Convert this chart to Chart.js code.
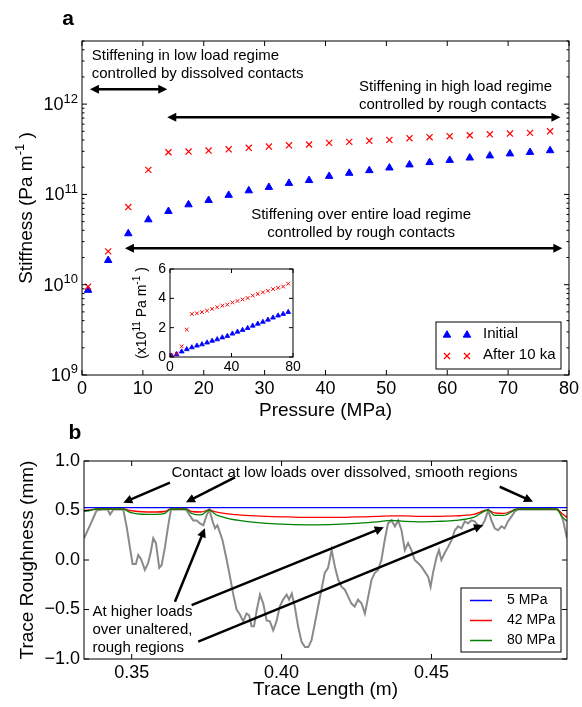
<!DOCTYPE html>
<html>
<head>
<meta charset="utf-8">
<script src="https://cdn.jsdelivr.net/npm/chart.js@4.4.0/dist/chart.umd.min.js"></script>
<style>
  body { margin: 0; background: #fff; }
  #wrap { position: relative; width: 582px; height: 707px; }
  canvas { position: absolute; }
  #a { left: 0; top: 0; }
  #b { left: 0; top: 420px; }
  #ins { left: 120px; top: 255px; }
</style>
</head>
<body>
<div id="wrap">
  <canvas id="a" width="582" height="430"></canvas>
  <canvas id="b" width="582" height="287"></canvas>
  <canvas id="ins" width="185" height="125"></canvas>
</div>
<script>
// panel a: fracture stiffness vs pressure
const pressure = [1, 4.3, 7.6, 10.9, 14.2, 17.5, 20.8, 24.1, 27.4, 30.7, 34, 37.3,
  40.6, 43.9, 47.2, 50.5, 53.8, 57.1, 60.4, 63.7, 67, 70.3, 73.6, 76.9];
const stiffInitial = [8.7e9, 1.86e10, 3.68e10, 5.25e10, 6.5e10, 7.7e10, 8.6e10, 9.8e10,
  1.1e11, 1.2e11, 1.33e11, 1.43e11, 1.59e11, 1.72e11, 1.84e11, 1.97e11, 2.13e11, 2.26e11,
  2.39e11, 2.54e11, 2.68e11, 2.82e11, 2.93e11, 3.06e11];
const stiffAfter = [9.5e9, 2.34e10, 7.25e10, 1.87e11, 2.93e11, 2.98e11, 3.06e11, 3.16e11,
  3.28e11, 3.39e11, 3.5e11, 3.57e11, 3.72e11, 3.82e11, 3.92e11, 4.02e11, 4.19e11, 4.3e11,
  4.41e11, 4.52e11, 4.63e11, 4.72e11, 4.8e11, 5.0e11];
const stiffTicks = [1e9, 1e10, 1e11, 1e12];

// panel b: roughness trace and aperture envelopes
const traceX = [0.3341, 0.3361, 0.3383, 0.3400, 0.3420, 0.3428, 0.3439, 0.3472, 0.3483, 0.3494,
  0.3503, 0.3514, 0.3522, 0.3531, 0.3544, 0.3555, 0.3563, 0.3572, 0.3581, 0.3592, 0.3600, 0.3611,
  0.3622, 0.3631, 0.3681, 0.3694, 0.3705, 0.3717, 0.3728, 0.3739, 0.3750, 0.3759, 0.3770, 0.3778,
  0.3786, 0.3794, 0.3803, 0.3817, 0.3828, 0.3839, 0.3850, 0.3861, 0.3872, 0.3883, 0.3892, 0.3900,
  0.3908, 0.3917, 0.3928, 0.3939, 0.3950, 0.3961, 0.3972, 0.3983, 0.3994, 0.4005, 0.4017, 0.4025,
  0.4034, 0.4044, 0.4055, 0.4067, 0.4078, 0.4089, 0.4100, 0.4111, 0.4122, 0.4133, 0.4144, 0.4155,
  0.4167, 0.4178, 0.4189, 0.4200, 0.4211, 0.4222, 0.4233, 0.4244, 0.4255, 0.4267, 0.4278, 0.4289,
  0.4300, 0.4311, 0.4322, 0.4333, 0.4344, 0.4355, 0.4367, 0.4378, 0.4389, 0.4400, 0.4411, 0.4422,
  0.4433, 0.4444, 0.4455, 0.4467, 0.4478, 0.4489, 0.4497, 0.4505, 0.4517, 0.4525, 0.4533, 0.4544,
  0.4555, 0.4567, 0.4578, 0.4589, 0.4600, 0.4611, 0.4622, 0.4633, 0.4644, 0.4655, 0.4667, 0.4678,
  0.4689, 0.4700, 0.4711, 0.4722, 0.4733, 0.4744, 0.4755, 0.4767, 0.4778, 0.4789, 0.4917, 0.4928,
  0.4939, 0.4952];
const traceY = [0.22, 0.35, 0.50, 0.51, 0.51, 0.46, 0.51, 0.51, 0.34, 0.13,
  -0.04, -0.04, 0.05, 0.01, -0.10, -0.03, 0.07, 0.22, 0.17, -0.08, -0.05, 0.13,
  0.35, 0.51, 0.51, 0.45, 0.40, 0.40, 0.37, 0.35, 0.45, 0.51, 0.39, 0.32,
  0.35, 0.28, 0.20, 0.00, -0.17, -0.35, -0.50, -0.55, -0.62, -0.54, -0.56, -0.67,
  -0.67, -0.51, -0.35, -0.44, -0.61, -0.62, -0.71, -0.62, -0.47, -0.40, -0.35, -0.40,
  -0.34, -0.47, -0.67, -0.83, -0.88, -0.88, -0.81, -0.64, -0.47, -0.30, -0.13, -0.08,
  0.10, -0.07, -0.20, -0.27, -0.30, -0.37, -0.44, -0.47, -0.40, -0.44, -0.54, -0.37,
  -0.20, -0.13, -0.10, 0.00, 0.20, 0.37, 0.40, 0.34, 0.40, 0.30, 0.10, 0.17,
  0.10, 0.00, -0.03, -0.07, -0.12, -0.17, -0.27, -0.13, 0.03, 0.10, 0.00, 0.07,
  0.13, 0.20, 0.30, 0.34, 0.32, 0.39, 0.37, 0.40, 0.39, 0.35, 0.34, 0.40,
  0.50, 0.40, 0.32, 0.30, 0.34, 0.32, 0.39, 0.44, 0.49, 0.51, 0.51, 0.49,
  0.40, 0.22];
const fitX = [0.3341, 0.3360, 0.3383, 0.3472, 0.3495, 0.3520, 0.3550, 0.3580, 0.3610, 0.3631,
  0.3681, 0.3700, 0.3730, 0.3759, 0.3780, 0.3820, 0.3880, 0.3950, 0.4020, 0.4100, 0.4180, 0.4250,
  0.4320, 0.4367, 0.4410, 0.4460, 0.4520, 0.4580, 0.4640, 0.4689, 0.4710, 0.4740, 0.4789, 0.4917,
  0.4935, 0.4952];
const fit42 = [0.50, 0.505, 0.515, 0.515, 0.50, 0.49, 0.485, 0.485, 0.49, 0.515,
  0.515, 0.49, 0.485, 0.505, 0.485, 0.465, 0.45, 0.44, 0.435, 0.43, 0.43, 0.435,
  0.44, 0.445, 0.445, 0.44, 0.44, 0.445, 0.46, 0.505, 0.475, 0.47, 0.515, 0.515,
  0.47, 0.43];
const fit80 = [0.49, 0.50, 0.515, 0.515, 0.48, 0.465, 0.46, 0.46, 0.47, 0.515,
  0.515, 0.47, 0.455, 0.505, 0.46, 0.42, 0.39, 0.37, 0.36, 0.355, 0.36, 0.37,
  0.385, 0.40, 0.39, 0.385, 0.39, 0.40, 0.43, 0.505, 0.45, 0.45, 0.515, 0.515,
  0.44, 0.39];
const flatX = [0.3341, 0.4952];
const fit5 = [0.53, 0.53];
const lengthTicks = [0.35, 0.40, 0.45];
const roughTicks = [-1, -0.5, 0, 0.5, 1];

const FONT = '"Liberation Sans", Arial, Helvetica, sans-serif';
const BLUE = '#0000ff', RED = '#ff0000', GREEN = '#008000', GREY = '#8a8a8a';
const NOGRID = { display: false, drawTicks: false, tickLength: 0 };

function font(size, bold) { return (bold ? 'bold ' : '') + size + 'px ' + FONT; }
function pts(xs, ys) { return xs.map((x, i) => ({ x: x, y: ys[i] })); }

// text with superscript pieces: parts = [[text, isSup], ...]
function richText(ctx, parts, x, y, size, align) {
  const small = Math.round(size * 0.7);
  let w = 0;
  parts.forEach(p => { ctx.font = font(p[1] ? small : size); w += ctx.measureText(p[0]).width; });
  let cx = align === 'right' ? x - w : align === 'center' ? x - w / 2 : x;
  ctx.textAlign = 'left';
  ctx.textBaseline = 'alphabetic';
  parts.forEach(p => {
    ctx.font = font(p[1] ? small : size);
    ctx.fillText(p[0], cx, p[1] ? y - size * 0.42 : y);
    cx += ctx.measureText(p[0]).width;
  });
}

function lines(ctx, txt, x, y, size, align, gap) {
  ctx.font = font(size);
  ctx.textAlign = align;
  ctx.textBaseline = 'middle';
  txt.forEach((t, i) => ctx.fillText(t, x, y + i * gap));
}

function head(ctx, x, y, ang) {
  const hl = 9, hw = 4.5;
  ctx.beginPath();
  ctx.moveTo(x, y);
  ctx.lineTo(x - hl * Math.cos(ang) + hw * Math.sin(ang), y - hl * Math.sin(ang) - hw * Math.cos(ang));
  ctx.lineTo(x - hl * Math.cos(ang) - hw * Math.sin(ang), y - hl * Math.sin(ang) + hw * Math.cos(ang));
  ctx.closePath();
  ctx.fill();
}

function arrow(ctx, x1, y1, x2, y2, both) {
  const ang = Math.atan2(y2 - y1, x2 - x1);
  const c = Math.cos(ang) * 7, s = Math.sin(ang) * 7;
  ctx.save();
  ctx.strokeStyle = '#000';
  ctx.fillStyle = '#000';
  ctx.lineWidth = 2.5;
  ctx.beginPath();
  ctx.moveTo(both ? x1 + c : x1, both ? y1 + s : y1);
  ctx.lineTo(x2 - c, y2 - s);
  ctx.stroke();
  head(ctx, x2, y2, ang);
  if (both) head(ctx, x1, y1, ang + Math.PI);
  ctx.restore();
}

// box + inward ticks on all four sides, like the matplotlib original
function frame(chart, xt, yt, yMinor, len) {
  const ctx = chart.ctx, a = chart.chartArea, sx = chart.scales.x, sy = chart.scales.y;
  ctx.save();
  ctx.strokeStyle = '#000';
  ctx.lineWidth = 1;
  ctx.beginPath();
  xt.forEach(v => {
    const p = sx.getPixelForValue(v);
    ctx.moveTo(p, a.bottom); ctx.lineTo(p, a.bottom - len);
    ctx.moveTo(p, a.top); ctx.lineTo(p, a.top + len);
  });
  yt.forEach(v => {
    const p = sy.getPixelForValue(v);
    ctx.moveTo(a.left, p); ctx.lineTo(a.left + len, p);
    ctx.moveTo(a.right, p); ctx.lineTo(a.right - len, p);
  });
  yMinor.forEach(v => {
    const p = sy.getPixelForValue(v);
    ctx.moveTo(a.left, p); ctx.lineTo(a.left + len / 2, p);
    ctx.moveTo(a.right, p); ctx.lineTo(a.right - len / 2, p);
  });
  ctx.stroke();
  ctx.strokeRect(a.left, a.top, a.right - a.left, a.bottom - a.top);
  ctx.restore();
}

const panelA = {
  id: 'panelA',
  afterDraw(chart) {
    const ctx = chart.ctx, a = chart.chartArea, sx = chart.scales.x, sy = chart.scales.y;
    const minor = [];
    stiffTicks.forEach(t => { for (let m = 2; m <= 9; m++) if (t * m <= sy.max) minor.push(t * m); });
    frame(chart, sx.ticks.map(t => t.value), stiffTicks, minor, 5);

    ctx.save();
    ctx.fillStyle = '#000';
    stiffTicks.forEach(t => {
      richText(ctx, [['10', false], [String(Math.round(Math.log10(t))), true]],
        a.left - 4, sy.getPixelForValue(t) + 6, 18, 'right');
    });
    ctx.font = font(21, true);
    ctx.textAlign = 'center';
    ctx.textBaseline = 'middle';
    ctx.fillText('a', 68, 19);
    ctx.font = font(19);
    ctx.fillText('Pressure (MPa)', (a.left + a.right) / 2, 411);
    ctx.save();
    ctx.translate(25, (a.top + a.bottom) / 2);
    ctx.rotate(-Math.PI / 2);
    richText(ctx, [['Stiffness (Pa m', false], ['-1', true], [' )', false]], 0, 7, 19, 'center');
    ctx.restore();

    // regime annotations
    const X = v => sx.getPixelForValue(v), Y = v => sy.getPixelForValue(v);
    lines(ctx, ['Stiffening in low load regime', 'controlled by dissolved contacts'], X(1.6), Y(3.44e12), 15, 'left', 18);
    arrow(ctx, X(1.3), Y(1.46e12), X(14.0), Y(1.46e12), true);
    lines(ctx, ['Stiffening in high load regime', 'controlled by rough contacts'], X(45.5), Y(1.56e12), 15, 'left', 18);
    arrow(ctx, X(14.0), Y(7.15e11), X(78.6), Y(7.15e11), true);
    lines(ctx, ['Stiffening over entire load regime', 'controlled by rough contacts'], X(45.85), Y(5.97e10), 15, 'center', 18);
    arrow(ctx, X(7.05), Y(2.53e10), X(78.9), Y(2.53e10), true);

    // legend with two markers per entry
    const lx = a.right - 133, ly = a.bottom - 53;
    ctx.fillStyle = '#fff';
    ctx.fillRect(lx, ly, 125, 47);
    ctx.strokeStyle = '#000';
    ctx.lineWidth = 1;
    ctx.strokeRect(lx, ly, 125, 47);
    [11, 31].forEach(dx => {
      ctx.fillStyle = BLUE; ctx.strokeStyle = BLUE; ctx.lineWidth = 1;
      Chart.helpers.drawPoint(ctx, { pointStyle: 'triangle', radius: 4.3, borderWidth: 1, rotation: 0 }, lx + dx, ly + 13);
      ctx.fillStyle = RED; ctx.strokeStyle = RED; ctx.lineWidth = 1.2;
      Chart.helpers.drawPoint(ctx, { pointStyle: 'crossRot', radius: 4.3, borderWidth: 1.2, rotation: 0 }, lx + dx, ly + 34);
    });
    ctx.fillStyle = '#000';
    lines(ctx, ['Initial', 'After 10 ka'], lx + 47, ly + 12, 15, 'left', 21);
    ctx.restore();
  }
};

new Chart(document.getElementById('a'), {
  type: 'scatter',
  data: {
    datasets: [
      { label: 'After 10 ka', data: pts(pressure, stiffAfter), pointStyle: 'crossRot', pointRadius: 4.3,
        pointBorderColor: RED, pointBackgroundColor: RED, pointBorderWidth: 1.2 },
      { label: 'Initial', data: pts(pressure, stiffInitial), pointStyle: 'triangle', pointRadius: 4.3,
        pointBorderColor: BLUE, pointBackgroundColor: BLUE, pointBorderWidth: 1 }
    ]
  },
  options: {
    responsive: false, animation: false, events: [],
    layout: { padding: { left: 0, top: 41, right: 12, bottom: 0 } },
    plugins: { legend: { display: false }, tooltip: { enabled: false } },
    scales: {
      x: { type: 'linear', min: 0, max: 80, grid: NOGRID, border: { display: false },
        ticks: { stepSize: 10, color: '#000', font: { family: FONT, size: 18 }, padding: 3, maxRotation: 0 },
        afterFit: s => { s.height = 55; } },
      y: { type: 'logarithmic', min: 1e9, max: 5e12, grid: NOGRID, border: { display: false },
        ticks: { display: false },
        afterFit: s => { s.width = 82; } }
    }
  },
  plugins: [panelA]
});

const inset = {
  id: 'inset',
  afterDraw(chart) {
    const ctx = chart.ctx, a = chart.chartArea;
    frame(chart, chart.scales.x.ticks.map(t => t.value), chart.scales.y.ticks.map(t => t.value), [], 4);
    ctx.save();
    ctx.fillStyle = '#000';
    ctx.translate(21, (a.top + a.bottom) / 2);
    ctx.rotate(-Math.PI / 2);
    richText(ctx, [['(x10', false], ['11', true], [' Pa m', false], ['-1', true], [' )', false]], 0, 5, 14, 'center');
    ctx.restore();
  }
};

new Chart(document.getElementById('ins'), {
  type: 'scatter',
  data: {
    datasets: [
      { data: pts(pressure, stiffAfter.map(v => v / 1e11)), pointStyle: 'crossRot', pointRadius: 2.6,
        pointBorderColor: RED, pointBackgroundColor: RED, pointBorderWidth: 1 },
      { data: pts(pressure, stiffInitial.map(v => v / 1e11)), pointStyle: 'triangle', pointRadius: 2.8,
        pointBorderColor: BLUE, pointBackgroundColor: BLUE, pointBorderWidth: 0.8 }
    ]
  },
  options: {
    responsive: false, animation: false, events: [],
    layout: { padding: { left: 0, top: 14, right: 12, bottom: 0 } },
    plugins: { legend: { display: false }, tooltip: { enabled: false } },
    scales: {
      x: { type: 'linear', min: 0, max: 80, grid: NOGRID, border: { display: false },
        ticks: { stepSize: 40, color: '#000', font: { family: FONT, size: 14 }, padding: 2, maxRotation: 0 },
        afterFit: s => { s.height = 23; } },
      y: { type: 'linear', min: 0, max: 6, grid: NOGRID, border: { display: false },
        ticks: { stepSize: 2, color: '#000', font: { family: FONT, size: 14 }, padding: 4 },
        afterFit: s => { s.width = 50; } }
    }
  },
  plugins: [inset]
});

const panelB = {
  id: 'panelB',
  afterDraw(chart) {
    const ctx = chart.ctx, a = chart.chartArea, sx = chart.scales.x, sy = chart.scales.y;
    frame(chart, lengthTicks, roughTicks, [], 5);
    const X = v => sx.getPixelForValue(v), Y = v => sy.getPixelForValue(v);
    ctx.save();
    ctx.fillStyle = '#000';
    ctx.font = font(21, true);
    ctx.textAlign = 'center';
    ctx.textBaseline = 'middle';
    ctx.fillText('b', 75, 13);
    ctx.font = font(19);
    ctx.fillText('Trace Length (m)', (a.left + a.right) / 2, 270);
    ctx.save();
    ctx.translate(28, (a.top + a.bottom) / 2);
    ctx.rotate(-Math.PI / 2);
    ctx.fillText('Trace Roughness (mm)', 0, 0);
    ctx.restore();

    lines(ctx, ['Contact at low loads over dissolved, smooth regions'], X(0.421), Y(0.876), 15, 'center', 18);
    arrow(ctx, X(0.36277), Y(0.781), X(0.3472), Y(0.579), false);
    arrow(ctx, X(0.38443), Y(0.835), X(0.3681), Y(0.583), false);
    arrow(ctx, X(0.47277), Y(0.740), X(0.48387), Y(0.589), false);
    lines(ctx, ['At higher loads', 'over unaltered,', 'rough regions'], X(0.3369), Y(-0.522), 15, 'left', 18.3);
    arrow(ctx, X(0.36443), Y(-0.421), X(0.37443), Y(0.320), false);
    arrow(ctx, X(0.3700), Y(-0.455), X(0.4341), Y(0.330), false);
    arrow(ctx, X(0.3722), Y(-0.825), X(0.4672), Y(0.354), false);

    // legend
    const lx = a.right - 106, ly = a.bottom - 71;
    ctx.fillStyle = '#fff';
    ctx.fillRect(lx, ly, 100, 64);
    ctx.strokeStyle = '#000';
    ctx.lineWidth = 1;
    ctx.strokeRect(lx, ly, 100, 64);
    [[BLUE, '5 MPa'], [RED, '42 MPa'], [GREEN, '80 MPa']].forEach((e, i) => {
      const y = ly + 12.5 + i * 20;
      ctx.strokeStyle = e[0];
      ctx.lineWidth = 1.5;
      ctx.beginPath(); ctx.moveTo(lx + 9, y); ctx.lineTo(lx + 31, y); ctx.stroke();
      ctx.fillStyle = '#000';
      lines(ctx, [e[1]], lx + 46, y, 14, 'left', 0);
    });
    ctx.restore();
  }
};

new Chart(document.getElementById('b'), {
  type: 'line',
  data: {
    datasets: [
      { label: '80 MPa', data: pts(fitX, fit80), borderColor: GREEN, borderWidth: 1.3, pointRadius: 0, cubicInterpolationMode: 'monotone' },
      { label: '42 MPa', data: pts(fitX, fit42), borderColor: RED, borderWidth: 1.3, pointRadius: 0, cubicInterpolationMode: 'monotone' },
      { label: '5 MPa', data: pts(flatX, fit5), borderColor: BLUE, borderWidth: 1.3, pointRadius: 0 },
      { label: 'trace', data: pts(traceX, traceY), borderColor: GREY, borderWidth: 2, pointRadius: 0, tension: 0 }
    ]
  },
  options: {
    responsive: false, animation: false, events: [],
    layout: { padding: { left: 0, top: 41, right: 15, bottom: 0 } },
    plugins: { legend: { display: false }, tooltip: { enabled: false } },
    scales: {
      x: { type: 'linear', min: 0.3341, max: 0.4952, grid: NOGRID, border: { display: false },
        afterBuildTicks: s => { s.ticks = lengthTicks.map(v => ({ value: v })); },
        ticks: { color: '#000', font: { family: FONT, size: 18 }, padding: 3, maxRotation: 0,
          callback: v => v.toFixed(2) },
        afterFit: s => { s.height = 48; } },
      y: { type: 'linear', min: -1, max: 1, grid: NOGRID, border: { display: false },
        afterBuildTicks: s => { s.ticks = roughTicks.map(v => ({ value: v })); },
        ticks: { color: '#000', font: { family: FONT, size: 18 }, padding: 4,
          callback: v => v.toFixed(1).replace('-', '\u2212') },
        afterFit: s => { s.width = 84; } }
    }
  },
  plugins: [panelB]
});
</script>
</body>
</html>
